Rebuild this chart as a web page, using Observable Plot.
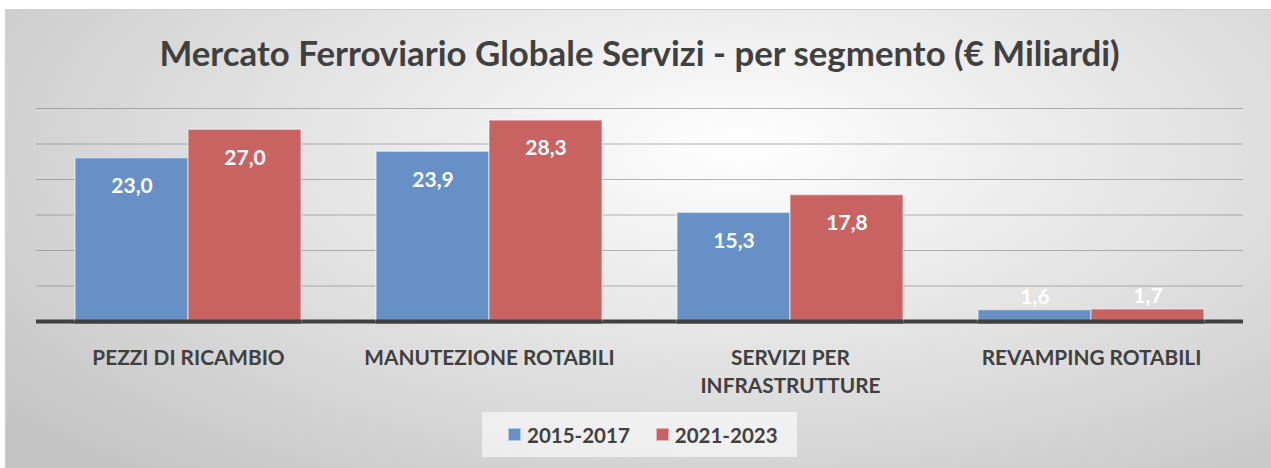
<!DOCTYPE html>
<html>
<head>
<meta charset="utf-8">
<script src="https://cdn.jsdelivr.net/npm/d3@7"></script>
<script src="https://cdn.jsdelivr.net/npm/@observablehq/plot@0.6"></script>
<style>
  html, body { margin: 0; padding: 0; background: #fff; }
  #wrap { position: relative; width: 1271px; height: 468px; overflow: hidden; background: #fff; font-family: Lato, "Open Sans", sans-serif; }
  #frame { position: absolute; left: 5px; top: 9px; width: 1266px; height: 459px; box-sizing: border-box;
    border-top: 1px solid #cfcfcf; border-left: 1px solid #cfcfcf;
    background: radial-gradient(ellipse 75% 95% at 58% 30%, #ffffff 0%, #f3f3f3 20%, #dcdcdc 60%, #c4c4c4 100%); }
  #title { position: absolute; left: 4px; width: 1271px; top: 32px; text-align: center; font-size: 34.8px; font-weight: 700; color: #404040; white-space: nowrap; line-height: 42px; }
  .layer { position: absolute; left: 0; top: 0; }
  #legend { position: absolute; left: 482px; top: 412px; width: 315px; height: 45px; box-sizing: border-box; padding-left: 26px; background: rgba(255,255,255,0.6);
    display: flex; align-items: center; justify-content: flex-start; gap: 26px; font-size: 20.5px; font-weight: 700; color: #404040; }
  .item { display: flex; align-items: center; gap: 6px; }
  .sw { width: 13px; height: 13px; box-sizing: border-box; border: 1px solid rgba(255,255,255,0.5); }
</style>
</head>
<body>
<div id="wrap">
  <div id="frame"></div>
  <div id="title"></div>
  <div id="back" class="layer"></div>
  <div id="front" class="layer"></div>
  <div id="legend"></div>
</div>
<script>
const titleText = "Mercato Ferroviario Globale Servizi - per segmento (€ Miliardi)";
const categories = ["PEZZI DI RICAMBIO", "MANUTEZIONE ROTABILI", "SERVIZI PER\nINFRASTRUTTURE", "REVAMPING ROTABILI"];
const series = ["2015-2017", "2021-2023"];
const values2015_2017 = [23.0, 23.9, 15.3, 1.6];
const values2021_2023 = [27.0, 28.3, 17.8, 1.7];
const gridValues = [5, 10, 15, 20, 25, 30];
const colors = ["#6790c6", "#c86362"];

const data = [];
categories.forEach((c, i) => {
  data.push({category: c, series: series[0], value: values2015_2017[i]});
  data.push({category: c, series: series[1], value: values2021_2023[i]});
});
const fmt = d => d.value.toFixed(1).replace(".", ",");

document.getElementById("title").textContent = titleText;

const W = 1271, H = 400;
const margins = {marginTop: 108, marginBottom: 79, marginLeft: 36, marginRight: 28};

const back = Plot.plot({
  width: W, height: H, ...margins,
  style: {background: "transparent"},
  y: {domain: [0, 30], axis: null},
  marks: [
    Plot.ruleY(gridValues, {stroke: "#7a7a7a", strokeOpacity: 0.55, strokeWidth: 1.2}),
    Plot.ruleY([0], {stroke: "#404040", strokeWidth: 4})
  ]
});
document.getElementById("back").appendChild(back);

const front = Plot.plot({
  width: W, height: H, ...margins,
  style: {background: "transparent", overflow: "visible"},
  fx: {domain: categories, paddingInner: 0.25, paddingOuter: 0.125, label: null},
  x: {domain: series, padding: 0, axis: null},
  y: {domain: [0, 30], axis: null},
  color: {domain: series, range: colors},
  marks: [
    Plot.barY(data, {fx: "category", x: "series", y: "value", fill: "series", stroke: "#ffffff", strokeOpacity: 0.45, strokeWidth: 1.5}),
    Plot.ruleY([0], {stroke: "#404040", strokeWidth: 4}),
    Plot.text(data.filter(d => d.value >= 5), {fx: "category", x: "series", y: "value", text: fmt, dy: 28, fill: "#ffffff", fontSize: 21, fontWeight: 700, fontFamily: "Lato"}),
    Plot.text(data.filter(d => d.value < 5), {fx: "category", x: "series", y: "value", text: fmt, dy: -13, fill: "#ffffff", fontSize: 21, fontWeight: 700, fontFamily: "Lato"}),
    Plot.axisFx({anchor: "bottom", label: null, tickSize: 0, tickPadding: 24, fontSize: 20.8, fontWeight: 700, fontFamily: "Lato", fill: "#404040", lineHeight: 1.34})
  ]
});
document.getElementById("front").appendChild(front);

const legend = document.getElementById("legend");
series.forEach((s, i) => {
  const item = document.createElement("div");
  item.className = "item";
  const sw = document.createElement("div");
  sw.className = "sw";
  sw.style.background = colors[i];
  const t = document.createElement("span");
  t.textContent = s;
  item.appendChild(sw); item.appendChild(t);
  legend.appendChild(item);
});
</script>
</body>
</html>
